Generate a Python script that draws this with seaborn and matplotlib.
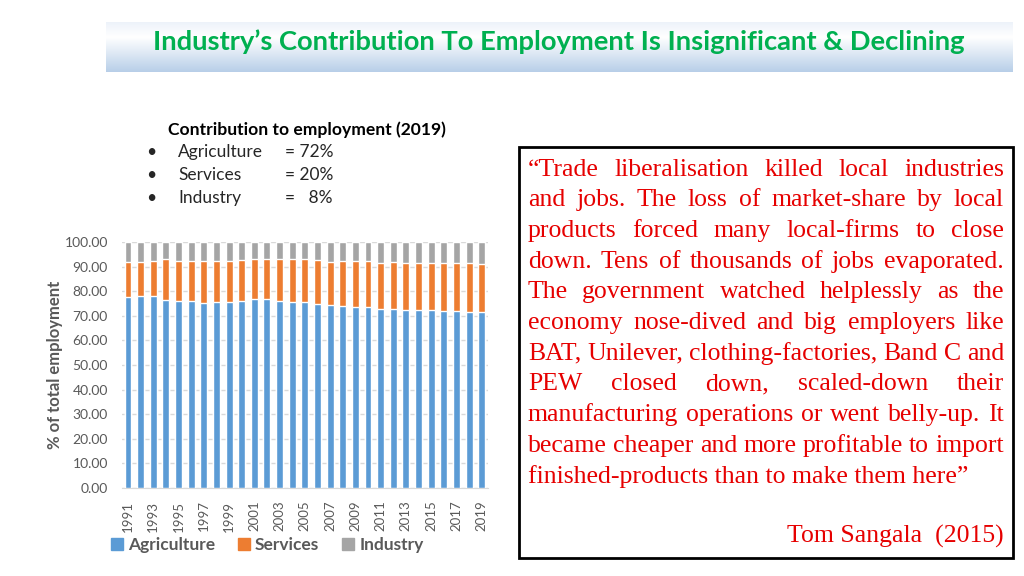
import numpy as np
import pandas as pd
import seaborn as sns
import matplotlib.pyplot as plt
from matplotlib.patches import Rectangle, Patch

sns.set_style('white')
plt.rcParams['font.family'] = ['Lato', 'DejaVu Sans']

years = [str(y) for y in range(1991, 2020)]
agriculture = [77.6, 78.2, 78.0, 76.6, 75.9, 75.9, 75.1, 75.8, 75.8, 76.2,
               76.8, 76.8, 76.2, 75.8, 75.7, 75.0, 74.3, 73.9, 73.5, 73.4,
               72.8, 72.6, 72.3, 72.2, 72.2, 71.9, 71.9, 71.6, 71.5]
services = [14.3, 13.8, 14.3, 16.4, 16.5, 16.3, 17.3, 16.6, 16.6, 16.5,
            16.2, 16.2, 16.8, 17.2, 17.3, 17.7, 17.6, 18.3, 18.7, 18.8,
            18.7, 19.3, 19.2, 19.4, 19.2, 19.7, 19.7, 20.0, 19.6]
industry = [8.1, 8.0, 7.7, 7.0, 7.6, 7.8, 7.6, 7.6, 7.6, 7.3,
            7.0, 7.0, 7.0, 7.0, 7.0, 7.3, 8.1, 7.8, 7.8, 7.8,
            8.5, 8.1, 8.5, 8.4, 8.6, 8.4, 8.4, 8.4, 8.9]
sectors = ['Agriculture', 'Services', 'Industry']
colors = ['#5B9BD5', '#ED7D31', '#A5A5A5']

quote_lines = [
    '\u201cTrade liberalisation killed local industries',
    'and jobs. The loss of market-share by local',
    'products forced many local-firms to close',
    'down. Tens of thousands of jobs evaporated.',
    'The government watched helplessly as the',
    'economy nose-dived and big employers like',
    'BAT, Unilever, clothing-factories, Band C and',
    'PEW closed down, scaled-down their',
    'manufacturing operations or went belly-up. It',
    'became cheaper and more profitable to import',
    'finished-products than to make them here\u201d',
]
author = 'Tom Sangala  (2015)'

df = pd.DataFrame({'year': years, 'Agriculture': agriculture,
                   'Services': services, 'Industry': industry})
df['agri_serv'] = df['Agriculture'] + df['Services']
df['total'] = df['agri_serv'] + df['Industry']

W, H = 1024, 576
fig = plt.figure(figsize=(W / 100, H / 100), dpi=100)
grey = '#595959'

# title banner with gradient
bax = fig.add_axes([106 / W, 1 - 72 / H, (1013 - 106) / W, 50 / H])
grad = np.linspace(0, 1, 100)
top = np.array([0.93, 0.95, 0.98])
mid = np.array([1.0, 1.0, 1.0])
bot = np.array([0.72, 0.81, 0.91])
rows = []
for g in grad:
    if g < 0.3:
        c = top + (mid - top) * g / 0.3
    else:
        c = mid + (bot - mid) * (g - 0.3) / 0.7
    rows.append(c)
img = np.array(rows)[:, None, :]
bax.imshow(img, aspect='auto', extent=[0, 1, 0, 1])
bax.set_axis_off()
fig.text(559 / W, 1 - 42 / H, 'Industry\u2019s Contribution To Employment Is Insignificant & Declining',
         color='#00B050', fontsize=19.7, fontweight='bold', ha='center', va='center')

# stacked bars
ax = fig.add_axes([121.7 / W, 1 - 488 / H, 366.3 / W, 246 / H])
sns.barplot(data=df, x='year', y='total', color=colors[2], width=0.55, saturation=1, ax=ax, zorder=3)
sns.barplot(data=df, x='year', y='agri_serv', color=colors[1], width=0.55, saturation=1, ax=ax, zorder=3)
sns.barplot(data=df, x='year', y='Agriculture', color=colors[0], width=0.55, saturation=1, ax=ax, zorder=3)
ax.set_ylim(0, 100)
ax.set_xlim(-0.5, len(years) - 0.5)
ax.set_yticks(np.arange(0, 101, 10))
ax.set_yticklabels([f'{v:.2f}' for v in np.arange(0, 101, 10)], color=grey, fontsize=10)
ax.set_xticks(range(0, len(years), 2))
ax.set_xticklabels(years[::2], rotation=90, color=grey, fontsize=9.5)
ax.tick_params(axis='y', length=0, pad=10)
ax.tick_params(axis='x', length=0, pad=9)
ax.yaxis.grid(True, color='#D9D9D9', linewidth=1, zorder=0)
for s in ['top', 'right', 'left']:
    ax.spines[s].set_visible(False)
ax.spines['bottom'].set_color('#D9D9D9')
ax.set_xlabel('')
ax.set_ylabel('% of total employment', color=grey, fontsize=12, fontweight='bold', labelpad=1)

handles = [Patch(color=c, label=s) for c, s in zip(colors, sectors)]
fig.legend(handles=handles, loc='center', bbox_to_anchor=(267 / W, 1 - 545 / H), ncol=3,
           frameon=False, handlelength=0.7, handleheight=0.7, handletextpad=0.3, columnspacing=1.3,
           prop={'weight': 'bold', 'size': 12.5}, labelcolor=grey)

# summary text
fig.text(168 / W, 1 - 135 / H, 'Contribution to employment (2019)', fontsize=12.6, fontweight='bold',
         color='black', va='baseline')
for i, (s, v) in enumerate(zip(sectors, ['= 72%', '= 20%', '=   8%'])):
    yb = 1 - (157 + 23 * i) / H
    fig.text(146 / W, yb, '\u2022', fontsize=12.5, va='baseline')
    fig.text(178 / W, yb, s, fontsize=12.5, va='baseline')
    fig.text(285 / W, yb, v, fontsize=12.5, va='baseline')

# quote box
fig.add_artist(Rectangle((519 / W, 1 - 558 / H), 494 / W, 411 / H, transform=fig.transFigure,
                         fill=False, edgecolor='black', linewidth=2))
red = '#E60000'
qfont = {'family': ['Liberation Serif'], 'size': 18.5, 'color': red}
renderer = fig.canvas.get_renderer()
x0, x1 = 528, 1004
for i, line in enumerate(quote_lines):
    yb = 1 - (175.5 + 30.7 * i) / H
    if i == len(quote_lines) - 1:
        fig.text(x0 / W, yb, line, va='baseline', **qfont)
        continue
    words = line.split()
    texts = [fig.text(0, yb, w, va='baseline', **qfont) for w in words]
    widths = [t.get_window_extent(renderer).width for t in texts]
    gap = (x1 - x0 - sum(widths)) / (len(words) - 1)
    x = x0
    for t, w in zip(texts, widths):
        t.set_x(x / W)
        x += w + gap
fig.text(x1 / W, 1 - 543 / H, author, ha='right', va='baseline', **qfont)

fig.savefig('out.png', dpi=100)
